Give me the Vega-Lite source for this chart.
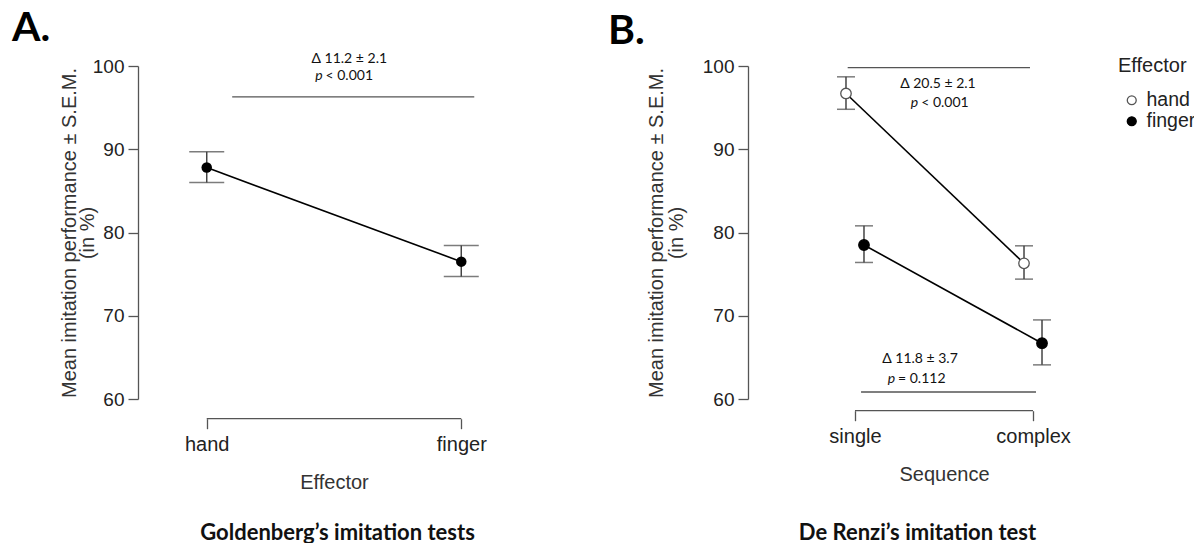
{
  "$schema": "https://vega.github.io/schema/vega-lite/v6.json",
  "background": "white",
  "padding": {"left": 12, "top": 8, "right": 0, "bottom": 0},
  "spacing": 218,
  "bounds": "flush",
  "datasets": {
    "A": [
      {"effector": "hand", "mean": 87.8, "lo": 86.0, "hi": 89.7},
      {"effector": "finger", "mean": 76.5, "lo": 74.7, "hi": 78.45}
    ],
    "Aann": [
      {"x0": 0.1, "x1": 1.051, "yv": 96.3},
      {"x0": 0, "x1": 1, "yv": 57.64}
    ],
    "Acenter": [{"x": 0.56, "y": 100.88, "t": "Δ 11.2 ± 2.1"}],
    "Ap": [{"x": 0.455, "y": 98.8, "t": "p"}],
    "Arest": [{"x": 0.455, "y": 98.8, "t": "< 0.001"}],
    "B": [
      {"seq": "single", "effector": "hand", "mean": 96.7, "lo": 94.8, "hi": 98.7},
      {"seq": "complex", "effector": "hand", "mean": 76.3, "lo": 74.4, "hi": 78.4},
      {"seq": "single", "effector": "finger", "mean": 78.5, "lo": 76.4, "hi": 80.8},
      {"seq": "complex", "effector": "finger", "mean": 66.7, "lo": 64.1, "hi": 69.5}
    ],
    "Bann": [
      {"x0": -0.041, "x1": 0.983, "yv": 99.8},
      {"x0": 0.034, "x1": 1.017, "yv": 60.84},
      {"x0": 0, "x1": 1, "yv": 58.6}
    ],
    "Bcenter": [
      {"x": 0.466, "y": 97.8, "t": "Δ 20.5 ± 2.1"},
      {"x": 0.365, "y": 64.75, "t": "Δ 11.8 ± 3.7"}
    ],
    "Bp": [
      {"x": 0.355, "y": 95.6, "t": "p"},
      {"x": 0.225, "y": 62.44, "t": "p"}
    ],
    "Brest": [
      {"x": 0.355, "y": 95.6, "t": "< 0.001"},
      {"x": 0.225, "y": 62.44, "t": "= 0.112"}
    ]
  },
  "hconcat": [
    {
      "width": 392,
      "height": 333,
      "title": {"text": "A.", "anchor": "start", "frame": "group", "font": "Lato", "fontSize": 41, "fontWeight": "bold", "color": "#000", "dx": -126, "offset": 1.5},
      "resolve": {"scale": {"x": "independent"}, "axis": {"x": "independent"}},
      "layer": [
        {
          "data": {"name": "A"},
          "mark": {"type": "rule", "color": "#444", "strokeWidth": 1.5},
          "encoding": {
            "x": {"field": "effector", "type": "nominal", "scale": {"type": "point", "domain": ["hand", "finger"], "padding": 0.27},
              "axis": {"title": "Effector", "orient": "bottom", "domain": false, "tickSize": 10, "offset": 19.7, "labelPadding": 6, "labelAngle": 0, "titlePadding": 18}},
            "y": {"field": "lo", "type": "quantitative", "scale": {"domain": [60, 100], "nice": false, "zero": false},
              "axis": {"title": ["Mean imitation performance ± S.E.M.", "(in %)"], "values": [60, 70, 80, 90, 100], "tickSize": 10, "labelPadding": 4, "labelFontSize": 19, "titleX": -63, "titleBaseline": "alphabetic", "titleLineHeight": 18}},
            "y2": {"field": "hi"}
          }
        },
        {
          "data": {"name": "A"},
          "mark": {"type": "tick", "color": "#444", "thickness": 1.5, "size": 35, "orient": "horizontal"},
          "encoding": {
            "x": {"field": "effector", "type": "nominal", "scale": {"type": "point", "domain": ["hand", "finger"], "padding": 0.27}, "axis": null},
            "y": {"field": "hi", "type": "quantitative"}
          }
        },
        {
          "data": {"name": "A"},
          "mark": {"type": "tick", "color": "#444", "thickness": 1.5, "size": 35, "orient": "horizontal"},
          "encoding": {
            "x": {"field": "effector", "type": "nominal", "scale": {"type": "point", "domain": ["hand", "finger"], "padding": 0.27}, "axis": null},
            "y": {"field": "lo", "type": "quantitative"}
          }
        },
        {
          "data": {"name": "A"},
          "mark": {"type": "line", "color": "#000", "strokeWidth": 1.6},
          "encoding": {
            "x": {"field": "effector", "type": "nominal", "scale": {"type": "point", "domain": ["hand", "finger"], "padding": 0.27}, "axis": null},
            "y": {"field": "mean", "type": "quantitative"}
          }
        },
        {
          "data": {"name": "A"},
          "mark": {"type": "circle", "color": "#000", "size": 110, "opacity": 1},
          "encoding": {
            "x": {"field": "effector", "type": "nominal", "scale": {"type": "point", "domain": ["hand", "finger"], "padding": 0.27}, "axis": null},
            "y": {"field": "mean", "type": "quantitative"}
          }
        },
        {
          "data": {"name": "Aann"},
          "mark": {"type": "rule", "color": "#555", "strokeWidth": 1.3},
          "encoding": {
            "x": {"field": "x0", "type": "quantitative", "scale": {"domain": [-0.27, 1.27], "nice": false, "zero": false},
              "axis": {"title": "Goldenberg’s imitation tests", "orient": "bottom", "labels": false, "ticks": false, "domain": false, "titleFont": "Lato", "titleFontWeight": "bold", "titleFontSize": 22, "titleColor": "#111", "titleX": 199, "titleY": 133, "titleBaseline": "middle"}},
            "x2": {"field": "x1"},
            "y": {"field": "yv", "type": "quantitative"}
          }
        },
        {
          "data": {"name": "Acenter"},
          "mark": {"type": "text", "font": "Lato", "fontSize": 14, "color": "#111", "baseline": "middle", "align": "center"},
          "encoding": {
            "x": {"field": "x", "type": "quantitative", "scale": {"domain": [-0.27, 1.27], "nice": false, "zero": false}, "axis": null},
            "y": {"field": "y", "type": "quantitative"},
            "text": {"field": "t"}
          }
        },
        {
          "data": {"name": "Ap"},
          "mark": {"type": "text", "font": "Lato", "fontSize": 14, "fontStyle": "italic", "color": "#111", "baseline": "middle", "align": "right"},
          "encoding": {
            "x": {"field": "x", "type": "quantitative", "scale": {"domain": [-0.27, 1.27], "nice": false, "zero": false}, "axis": null},
            "y": {"field": "y", "type": "quantitative"},
            "text": {"field": "t"}
          }
        },
        {
          "data": {"name": "Arest"},
          "mark": {"type": "text", "font": "Lato", "fontSize": 14, "color": "#111", "baseline": "middle", "align": "left", "dx": 3},
          "encoding": {
            "x": {"field": "x", "type": "quantitative", "scale": {"domain": [-0.27, 1.27], "nice": false, "zero": false}, "axis": null},
            "y": {"field": "y", "type": "quantitative"},
            "text": {"field": "t"}
          }
        }
      ]
    },
    {
      "width": 392,
      "height": 333,
      "title": {"text": "B.", "anchor": "start", "frame": "group", "font": "Lato", "fontSize": 41, "fontWeight": "bold", "color": "#000", "dx": -140, "offset": 4.5},
      "resolve": {"scale": {"x": "independent"}, "axis": {"x": "independent"}},
      "layer": [
        {
          "data": {"name": "B"},
          "mark": {"type": "rule", "color": "#444", "strokeWidth": 1.5},
          "encoding": {
            "x": {"field": "seq", "type": "nominal", "scale": {"type": "point", "domain": ["single", "complex"], "padding": 0.601},
              "axis": {"title": "Sequence", "orient": "bottom", "domain": false, "tickSize": 10, "offset": 11.7, "labelPadding": 6, "labelAngle": 0, "titlePadding": 18}},
            "xOffset": {"field": "effector", "type": "nominal", "scale": {"type": "point", "domain": ["hand", "finger"], "range": [-9, 9], "padding": 0}},
            "y": {"field": "lo", "type": "quantitative", "scale": {"domain": [60, 100], "nice": false, "zero": false},
              "axis": {"title": ["Mean imitation performance ± S.E.M.", "(in %)"], "values": [60, 70, 80, 90, 100], "tickSize": 10, "labelPadding": 4, "labelFontSize": 19, "titleX": -86, "titleBaseline": "alphabetic", "titleLineHeight": 20}},
            "y2": {"field": "hi"}
          }
        },
        {
          "data": {"name": "B"},
          "mark": {"type": "tick", "color": "#444", "thickness": 1.5, "size": 18, "orient": "horizontal"},
          "encoding": {
            "x": {"field": "seq", "type": "nominal", "scale": {"type": "point", "domain": ["single", "complex"], "padding": 0.601}, "axis": null},
            "xOffset": {"field": "effector", "type": "nominal", "scale": {"type": "point", "domain": ["hand", "finger"], "range": [-9, 9], "padding": 0}},
            "y": {"field": "hi", "type": "quantitative"}
          }
        },
        {
          "data": {"name": "B"},
          "mark": {"type": "tick", "color": "#444", "thickness": 1.5, "size": 18, "orient": "horizontal"},
          "encoding": {
            "x": {"field": "seq", "type": "nominal", "scale": {"type": "point", "domain": ["single", "complex"], "padding": 0.601}, "axis": null},
            "xOffset": {"field": "effector", "type": "nominal", "scale": {"type": "point", "domain": ["hand", "finger"], "range": [-9, 9], "padding": 0}},
            "y": {"field": "lo", "type": "quantitative"}
          }
        },
        {
          "data": {"name": "B"},
          "mark": {"type": "line", "color": "#000", "strokeWidth": 1.6},
          "encoding": {
            "x": {"field": "seq", "type": "nominal", "scale": {"type": "point", "domain": ["single", "complex"], "padding": 0.601}, "axis": null},
            "xOffset": {"field": "effector", "type": "nominal", "scale": {"type": "point", "domain": ["hand", "finger"], "range": [-9, 9], "padding": 0}},
            "y": {"field": "mean", "type": "quantitative"},
            "detail": {"field": "effector", "type": "nominal"}
          }
        },
        {
          "data": {"name": "B"},
          "mark": {"type": "circle", "size": 110, "opacity": 1, "strokeWidth": 1.3},
          "encoding": {
            "x": {"field": "seq", "type": "nominal", "scale": {"type": "point", "domain": ["single", "complex"], "padding": 0.601}, "axis": null},
            "xOffset": {"field": "effector", "type": "nominal", "scale": {"type": "point", "domain": ["hand", "finger"], "range": [-9, 9], "padding": 0}},
            "y": {"field": "mean", "type": "quantitative"},
            "fill": {"field": "effector", "type": "nominal", "scale": {"domain": ["hand", "finger"], "range": ["#ffffff", "#000000"]},
              "legend": {"title": "Effector", "orient": "none", "legendX": 980, "legendY": -10.5}},
            "stroke": {"field": "effector", "type": "nominal", "scale": {"domain": ["hand", "finger"], "range": ["#555555", "#000000"]},
              "legend": {"title": "Effector", "orient": "none", "legendX": 980, "legendY": -10.5}}
          }
        },
        {
          "data": {"name": "Bann"},
          "mark": {"type": "rule", "color": "#555", "strokeWidth": 1.3},
          "encoding": {
            "x": {"field": "x0", "type": "quantitative", "scale": {"domain": [-0.601, 1.601], "nice": false, "zero": false},
              "axis": {"title": "De Renzi’s imitation test", "orient": "bottom", "labels": false, "ticks": false, "domain": false, "titleFont": "Lato", "titleFontWeight": "bold", "titleFontSize": 22, "titleColor": "#111", "titleX": 169, "titleY": 133, "titleBaseline": "middle"}},
            "x2": {"field": "x1"},
            "y": {"field": "yv", "type": "quantitative"}
          }
        },
        {
          "data": {"name": "Bcenter"},
          "mark": {"type": "text", "font": "Lato", "fontSize": 14, "color": "#111", "baseline": "middle", "align": "center"},
          "encoding": {
            "x": {"field": "x", "type": "quantitative", "scale": {"domain": [-0.601, 1.601], "nice": false, "zero": false}, "axis": null},
            "y": {"field": "y", "type": "quantitative"},
            "text": {"field": "t"}
          }
        },
        {
          "data": {"name": "Bp"},
          "mark": {"type": "text", "font": "Lato", "fontSize": 14, "fontStyle": "italic", "color": "#111", "baseline": "middle", "align": "right"},
          "encoding": {
            "x": {"field": "x", "type": "quantitative", "scale": {"domain": [-0.601, 1.601], "nice": false, "zero": false}, "axis": null},
            "y": {"field": "y", "type": "quantitative"},
            "text": {"field": "t"}
          }
        },
        {
          "data": {"name": "Brest"},
          "mark": {"type": "text", "font": "Lato", "fontSize": 14, "color": "#111", "baseline": "middle", "align": "left", "dx": 3},
          "encoding": {
            "x": {"field": "x", "type": "quantitative", "scale": {"domain": [-0.601, 1.601], "nice": false, "zero": false}, "axis": null},
            "y": {"field": "y", "type": "quantitative"},
            "text": {"field": "t"}
          }
        }
      ]
    }
  ],
  "config": {
    "view": {"stroke": null},
    "font": "Liberation Sans",
    "axis": {"grid": false, "domainColor": "#555", "tickColor": "#555", "domainWidth": 1.3, "tickWidth": 1.3, "labelColor": "#222", "titleColor": "#333", "labelFont": "Liberation Sans", "titleFont": "Liberation Sans", "labelFontSize": 20, "titleFontSize": 20, "titleFontWeight": "normal"},
    "legend": {"titleFont": "Liberation Sans", "labelFont": "Liberation Sans", "titleFontSize": 20, "labelFontSize": 19.5, "titleFontWeight": "normal", "titleColor": "#222", "labelColor": "#222", "symbolSize": 80, "symbolStrokeWidth": 1.3, "titlePadding": 15, "labelOffset": 5, "symbolOffset": 4, "rowPadding": 0, "padding": 0}
  }
}
